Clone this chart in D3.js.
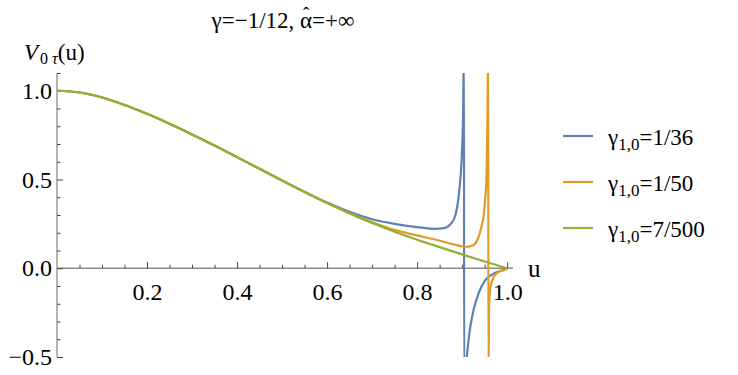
<!DOCTYPE html>
<html>
<head>
<meta charset="utf-8">
<script src="https://d3js.org/d3.v7.min.js"></script>
</head>
<body style="margin:0">
<script>
// values
var uBlue   = [0, 0.05, 0.1, 0.15, 0.2, 0.25, 0.3, 0.35, 0.4, 0.45, 0.5, 0.55, 0.6, 0.65, 0.7, 0.75, 0.8, 0.84, 0.86, 0.873, 0.884, 0.892, 0.896, 0.899, 0.902, 0.904,
               0.9045, 0.9104, 0.914, 0.918, 0.925, 0.936, 0.951, 0.97, 0.99, 1.0];
var vBlue   = [1.0, 0.99, 0.962, 0.92, 0.87, 0.814, 0.754, 0.691, 0.626, 0.56, 0.494, 0.43, 0.37, 0.318, 0.276, 0.25, 0.232, 0.222, 0.226, 0.245, 0.29, 0.4, 0.5, 0.62, 0.85, 1.25,
               -0.6, -0.5, -0.41, -0.333, -0.239, -0.144, -0.068, -0.03, -0.011, 0.0];
var uOrange = [0, 0.05, 0.1, 0.15, 0.2, 0.25, 0.3, 0.35, 0.4, 0.45, 0.5, 0.55, 0.6, 0.65, 0.7, 0.75, 0.8, 0.85, 0.88, 0.91, 0.925, 0.932, 0.943, 0.948, 0.951, 0.954, 0.956, 0.958,
               0.9584, 0.96, 0.963, 0.97, 0.981, 0.996, 1.0];
var vOrange = [1.0, 0.99, 0.962, 0.92, 0.87, 0.814, 0.754, 0.691, 0.626, 0.56, 0.494, 0.429, 0.367, 0.31, 0.26, 0.216, 0.185, 0.155, 0.135, 0.121, 0.13, 0.15, 0.235, 0.3, 0.386, 0.5, 0.8, 1.25,
               -0.6, -0.2, -0.106, -0.05, -0.02, -0.007, 0.0];
var uGreen  = [0, 0.05, 0.1, 0.15, 0.2, 0.25, 0.3, 0.35, 0.4, 0.45, 0.5, 0.55, 0.6, 0.65, 0.7, 0.75, 0.8, 0.85, 0.9, 0.95, 1.0];
var vGreen  = [1.0, 0.99, 0.962, 0.92, 0.87, 0.814, 0.754, 0.691, 0.626, 0.56, 0.494, 0.429, 0.367, 0.309, 0.255, 0.206, 0.161, 0.119, 0.078, 0.038, 0.0];

var seriesNames = ["1/36", "1/50", "7/500"];
var colors = ["#5e81b5", "#e19c24", "#8fb032"];
var xMajor = [0.2, 0.4, 0.6, 0.8, 1.0];
var yMajor = [-0.5, 0.0, 0.5, 1.0];

var W = 738, H = 375;
var FONT = "'Liberation Serif'";
var svg = d3.select("body").append("svg").attr("width", W).attr("height", H);

function serif(sel, size) {
  return sel.attr("font-family", FONT).attr("font-size", size);
}

var x = d3.scaleLinear().domain([0, 1.013]).range([57, 513]);
var y = d3.scaleLinear().domain([-0.5, 1.1]).range([357, 73]);

// clip to plot range
svg.append("clipPath").attr("id", "clip")
  .append("rect")
  .attr("x", x(0)).attr("y", y(1.1))
  .attr("width", x(1.013) - x(0)).attr("height", y(-0.5) - y(1.1));

var xMinor = d3.range(0.05, 1.001, 0.05).filter(function(t){ return !xMajor.some(function(m){ return Math.abs(m - t) < 1e-6; }); });
var yMinor = d3.range(-0.5, 1.101, 0.1).filter(function(t){ return !yMajor.some(function(m){ return Math.abs(m - t) < 1e-6; }); });

function styleAxis(g) {
  g.select(".domain").remove();
  g.attr("font-family", null).attr("font-size", null);
  g.selectAll("line").attr("stroke", "#444");
  serif(g.selectAll("text"), 24).attr("fill", "#000");
}

// x axis at y=0, ticks pointing up
var gx = svg.append("g").attr("transform", "translate(0," + y(0) + ")");
gx.append("line").attr("x1", x(0)).attr("x2", x(1.013)).attr("stroke", "#8c8c8c").attr("stroke-width", 1.3);
gx.append("g").call(d3.axisBottom(x).tickValues(xMinor).tickSize(-3.5).tickSizeOuter(0).tickFormat("")).call(styleAxis);
gx.append("g").call(d3.axisBottom(x).tickValues(xMajor).tickSize(-6).tickSizeOuter(0).tickPadding(15).tickFormat(d3.format(".1f"))).call(styleAxis);

// y axis at x=0, ticks pointing right
var gy = svg.append("g").attr("transform", "translate(" + x(0) + ",0)");
gy.append("line").attr("y1", y(1.1)).attr("y2", y(-0.5)).attr("stroke", "#8c8c8c").attr("stroke-width", 1.3);
gy.append("g").call(d3.axisLeft(y).tickValues(yMinor).tickSize(-3.5).tickSizeOuter(0).tickFormat("")).call(styleAxis);
gy.append("g").call(d3.axisLeft(y).tickValues(yMajor).tickSize(-6).tickSizeOuter(0).tickPadding(5).tickFormat(d3.format(".1f"))).call(styleAxis);

// curves
var line = d3.line().x(function(d){ return x(d[0]); }).y(function(d){ return y(d[1]); }).curve(d3.curveMonotoneX);
var series = [d3.zip(uBlue, vBlue), d3.zip(uOrange, vOrange), d3.zip(uGreen, vGreen)];
var plot = svg.append("g").attr("clip-path", "url(#clip)");
series.forEach(function(s, i){
  plot.append("path").datum(s)
    .attr("d", line)
    .attr("fill", "none")
    .attr("stroke", colors[i])
    .attr("stroke-width", 2.2)
    .attr("stroke-linejoin", "round");
});

// title, with the hat placed over alpha by hand
var title = serif(svg.append("text"), 23).attr("x", 283).attr("y", 28).attr("text-anchor", "middle")
  .text("\u03b3=\u22121/12, \u03b1=+\u221e");
var aIdx = title.text().indexOf("\u03b1");
var ext = title.node().getExtentOfChar(aIdx);
serif(svg.append("text"), 19).attr("x", ext.x + ext.width / 2).attr("y", 20).attr("text-anchor", "middle")
  .text("\u02c6");

// y label
var yl = serif(svg.append("text"), 23).attr("x", 24).attr("y", 60);
yl.append("tspan").attr("font-style", "italic").text("V");
yl.append("tspan").attr("font-size", 16).attr("dy", 4).attr("dx", 2).text("0 ");
yl.append("tspan").attr("font-size", 16).attr("font-style", "italic").text("\u03c4");
yl.append("tspan").attr("dy", -4).text("(u)");

// x label
serif(svg.append("text"), 25).attr("x", 528).attr("y", 277).text("u");

// legend
var legY = [136, 182, 228];
seriesNames.forEach(function(n, i){
  svg.append("line").attr("x1", 563).attr("x2", 593).attr("y1", legY[i]).attr("y2", legY[i])
    .attr("stroke", colors[i]).attr("stroke-width", 2.2);
  var t = serif(svg.append("text"), 23).attr("x", 608).attr("y", legY[i] + 9);
  t.append("tspan").text("\u03b3");
  t.append("tspan").attr("font-size", 17).attr("dy", 5).text("1,0");
  t.append("tspan").attr("dy", -5).text("=" + n);
});
</script>
</body>
</html>
